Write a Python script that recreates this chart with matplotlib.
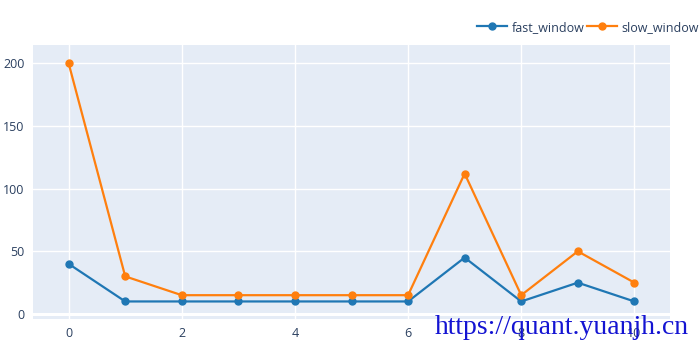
import numpy as np
import matplotlib
matplotlib.use("Agg")
import matplotlib.pyplot as plt

# data
x = list(range(11))
fast_window = [40, 10, 10, 10, 10, 10, 10, 45, 10, 25, 10]
slow_window = [200, 30, 15, 15, 15, 15, 15, 112, 15, 50, 25]
xticks = [0, 2, 4, 6, 8, 10]
yticks = [0, 50, 100, 150, 200]

plt.rcParams['font.family'] = ['Open Sans', 'DejaVu Sans']
text_col = '#2a3f5f'

fig = plt.figure(figsize=(7, 3.5), dpi=100)
ax = fig.add_axes([33/700, 1 - 319/350, (670 - 33)/700, (319 - 45)/350])
ax.set_facecolor('#E5ECF6')

ax.plot(x, fast_window, color='#1f77b4', lw=1.6, marker='o', ms=5, label='fast_window', zorder=3)
ax.plot(x, slow_window, color='#ff7f0e', lw=1.6, marker='o', ms=5, label='slow_window', zorder=3)

ax.set_xlim(-0.63, 10.63)
ax.set_ylim(-4, 214.6)
ax.set_xticks(xticks)
ax.set_yticks(yticks)
ax.grid(True, color='white', lw=1)
ax.axhline(0, color='white', lw=2.2, zorder=1)
ax.set_axisbelow(True)
for s in ax.spines.values():
    s.set_visible(False)
ax.tick_params(length=0, labelsize=9, colors=text_col, pad=6)

fig.legend(loc='upper right', bbox_to_anchor=(1.006, 0.955), ncol=2, frameon=False,
           fontsize=9, labelcolor=text_col, handlelength=2.4, handletextpad=0.4,
           columnspacing=0.2, borderaxespad=0)

# watermark
fig.text(435/700, 1 - 327/350, 'https://quant.yuanjh.cn', color='#1414d2',
         fontsize=20, family='Liberation Serif', va='center', ha='left')

fig.savefig('out.png', dpi=100)
